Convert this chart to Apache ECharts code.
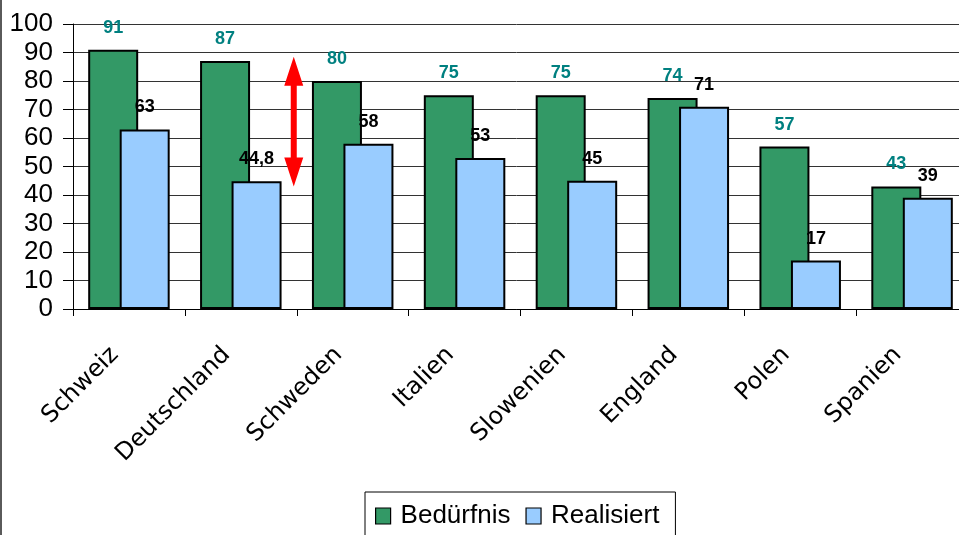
<!DOCTYPE html>
<html>
<head>
<meta charset="utf-8">
<script src="https://cdn.jsdelivr.net/npm/echarts@6/dist/echarts.min.js"></script>
<style>
html,body{margin:0;padding:0;background:#fff;}
#chart{width:959px;height:535px;}
</style>
</head>
<body>
<div id="chart"></div>
<script>
var categories = ['Schweiz','Deutschland','Schweden','Italien','Slowenien','England','Polen','Spanien'];
var bedarf = [91, 87, 80, 75, 75, 74, 57, 43];
var realisiert = [63, 44.8, 58, 53, 45, 71, 17, 39];
var seriesNames = ['Bedürfnis', 'Realisiert'];
var yTicks = [0, 10, 20, 30, 40, 50, 60, 70, 80, 90, 100];
// annotation arrow: spans between these values, placed between these two categories
var arrowRange = [88.5, 43];
var arrowBetween = ['Deutschland', 'Schweden'];

var chart = echarts.init(document.getElementById('chart'));
var fmt = function (p) { return String(p.value).replace('.', ','); };
chart.setOption({
  animation: false,
  backgroundColor: '#fff',
  grid: { left: 73, width: 895, top: 24, height: 285, containLabel: false, outerBoundsMode: 'none' },
  xAxis: {
    type: 'category',
    data: categories,
    boundaryGap: true,
    axisLine: { show: true, lineStyle: { color: '#000', width: 1 } },
    axisTick: { show: true, alignWithLabel: false, length: 7, lineStyle: { color: '#000' } },
    axisLabel: {
      rotate: 45, margin: 28, interval: 0, padding: [0, 20, 0, 0],
      color: '#000', fontFamily: 'DejaVu Sans', fontSize: 24
    }
  },
  yAxis: {
    type: 'value',
    min: yTicks[0], max: yTicks[yTicks.length - 1], interval: 10,
    axisLine: { show: true, lineStyle: { color: '#000', width: 1 } },
    axisTick: { show: true, inside: false, length: 10, lineStyle: { color: '#000' } },
    axisLabel: { margin: 20, color: '#000', fontFamily: 'Liberation Sans', fontSize: 26 },
    splitLine: { show: true, lineStyle: { color: '#333', width: 1 } }
  },
  legend: {
    left: 365, top: 492,
    data: seriesNames,
    orient: 'horizontal',
    backgroundColor: '#fff',
    borderColor: '#000', borderWidth: 1,
    padding: [11, 16, 30, 10],
    itemWidth: 15, itemHeight: 16, itemGap: 15,
    icon: 'rect',
    itemStyle: { borderColor: '#000', borderWidth: 1.2 },
    textStyle: { color: '#000', fontFamily: 'Liberation Sans', fontSize: 26, padding: [0, 0, 0, 5] }
  },
  series: [
    {
      name: seriesNames[0], type: 'bar', data: bedarf,
      barWidth: 50, barGap: '-37%',
      itemStyle: { color: '#339966', borderColor: '#000', borderWidth: 2 },
      label: { show: true, position: 'top', distance: 13, formatter: fmt,
        color: '#008080', fontFamily: 'Liberation Sans', fontWeight: 'bold', fontSize: 18 }
    },
    {
      name: seriesNames[1], type: 'bar', data: realisiert,
      barWidth: 50,
      itemStyle: { color: '#99CCFF', borderColor: '#000', borderWidth: 2 },
      label: { show: true, position: 'top', distance: 13, formatter: fmt,
        color: '#000', fontFamily: 'Liberation Sans', fontWeight: 'bold', fontSize: 18 }
    }
  ]
});

function drawExtras() {
  var c1 = chart.convertToPixel({ xAxisIndex: 0 }, arrowBetween[0]);
  var c2 = chart.convertToPixel({ xAxisIndex: 0 }, arrowBetween[1]);
  var x = (c1 + c2) / 2 - 3;
  var yTop = chart.convertToPixel({ yAxisIndex: 0 }, arrowRange[0]);
  var yBot = chart.convertToPixel({ yAxisIndex: 0 }, arrowRange[1]);
  var hw = 9.5, sw = 3, hl = 29;
  var pts = [
    [x, yTop], [x + hw, yTop + hl], [x + sw, yTop + hl],
    [x + sw, yBot - hl], [x + hw, yBot - hl], [x, yBot],
    [x - hw, yBot - hl], [x - sw, yBot - hl], [x - sw, yTop + hl],
    [x - hw, yTop + hl]
  ];
  chart.setOption({
    graphic: [
      { type: 'polygon', shape: { points: pts }, style: { fill: '#ff0000' }, z: 100 },
      { type: 'rect', shape: { x: 0, y: 0, width: 2, height: 535 }, style: { fill: '#5a5a5a' }, z: 100 }
    ]
  });
}
drawExtras();
</script>
</body>
</html>
